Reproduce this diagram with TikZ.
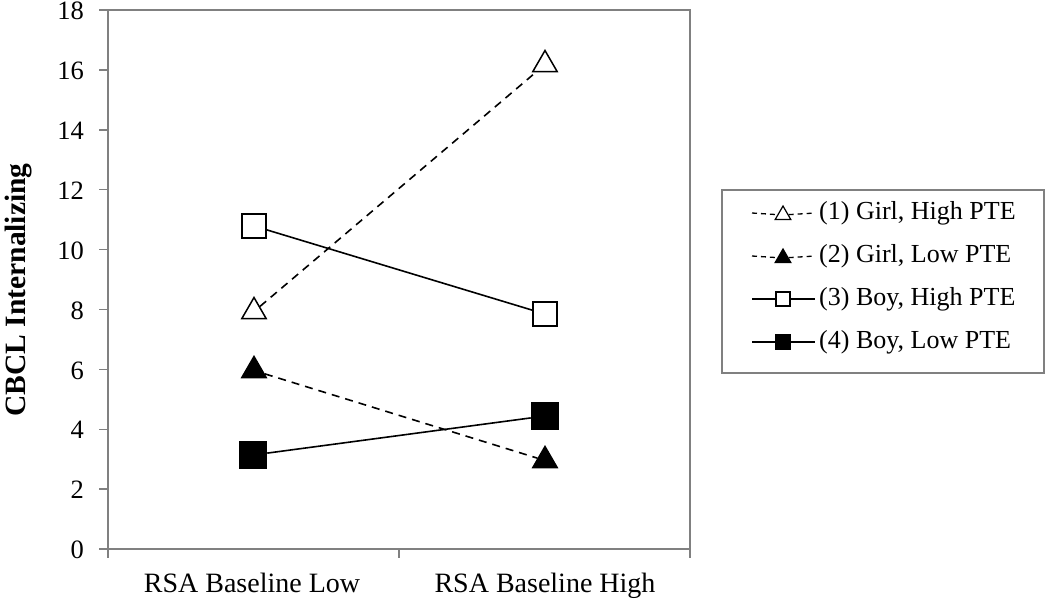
\documentclass[tikz,border=0pt]{standalone}
\usepackage{fontspec}
\setmainfont{Liberation Serif}
\usetikzlibrary{shapes.geometric,positioning}
\definecolor{axisgray}{RGB}{128,128,128}
\tikzstyle{axis}   =[draw=axisgray, line width=1.4pt]
\tikzstyle{series} =[line width=1.6pt]
\tikzstyle{dashser}=[series, dash pattern=on 8pt off 6pt]
\tikzstyle{legdash}=[dash pattern=on 5pt off 4pt]
\tikzstyle{legsolid}=[solid]
\tikzstyle{tri}    =[regular polygon, regular polygon sides=3,
                     draw, line width=1.5pt, minimum size=28pt,
                     inner sep=0pt, yshift=-3.5pt]
\tikzstyle{sq}     =[rectangle, draw, line width=1.5pt,
                     minimum size=24pt, inner sep=0pt]
\tikzstyle{ltri}   =[regular polygon, regular polygon sides=3,
                     draw, line width=1.2pt, minimum size=18pt,
                     inner sep=0pt, yshift=-2pt]
\tikzstyle{lsq}    =[rectangle, draw, line width=1.2pt,
                     minimum size=14pt, inner sep=0pt]
\tikzstyle{ticklab}=[font=\fontsize{26.5}{27}\selectfont, anchor=east,
                     inner sep=0pt]
\tikzstyle{catlab} =[font=\fontsize{28}{28}\selectfont, inner sep=0pt,
                     anchor=base]
\tikzstyle{leglab} =[font=\fontsize{26}{26}\selectfont, anchor=west,
                     inner sep=0pt]

\begin{document}
\begin{tikzpicture}[x=1pt, y=-1pt]
    \useasboundingbox (0,0) rectangle (1050,598);
    % plot frame and ticks
    \draw[axis] (108,10) rectangle (690,549);
    \foreach \v in {0,2,...,18} {
        \draw[axis] (99,549-29.94*\v) -- (108,549-29.94*\v);
        \node[ticklab] (t\v) at (84,550-29.94*\v) {\v};
    }
    \foreach \x in {108,399,690}
        \draw[axis] (\x,549) -- (\x,558);
    \node[catlab] (xlow) at (252,592) {RSA Baseline Low};
    \node[catlab] (xhigh) at (545,592) {RSA Baseline High};
    \node[font=\fontsize{29.5}{30}\selectfont\bfseries, rotate=90,
          inner sep=0pt] (ylab) at (19,290) {CBCL Internalizing};

    % markers
    \node[tri, fill=white] (ghL) at (254,308) {};
    \node[tri, fill=white] (ghH) at (545,61) {};
    \node[tri, fill=black] (glL) at (254,367) {};
    \node[tri, fill=black] (glH) at (545,457) {};
    \node[sq, fill=white] (bhL) at (254,226) {};
    \node[sq, fill=white] (bhH) at (545,314) {};
    \node[sq, fill=black, minimum size=27pt] (blL) at (253,455) {};
    \node[sq, fill=black, minimum size=27pt] (blH) at (545,416) {};
    \draw[dashser] (ghL) -- (ghH);
    \draw[dashser] (glL) -- (glH);
    \draw[series] (bhL) -- (bhH);
    \draw[series] (blL) -- (blH);

    % legend
    \draw[axis] (722,190) rectangle (1044,373);
    \foreach \n/\y/\m/\f/\d/\t in {
        1/213/ltri/white/legdash/{(1) Girl, High PTE},
        2/256/ltri/black/legdash/{(2) Girl, Low PTE},
        3/299/lsq/white/legsolid/{(3) Boy, High PTE},
        4/342/lsq/black/legsolid/{(4) Boy, Low PTE}} {
        \coordinate (la\n) at (752,\y);
        \coordinate (lb\n) at (815,\y);
        \node[\m, fill=\f] (lm\n) at (783,\y) {};
        \draw[series, line width=1.3pt, \d] (la\n) -- (lm\n);
        \draw[series, line width=1.3pt, \d] (lm\n) -- (lb\n);
        \node[leglab] (lt\n) at (819,\y) {\t};
    }
\end{tikzpicture}
\end{document}
